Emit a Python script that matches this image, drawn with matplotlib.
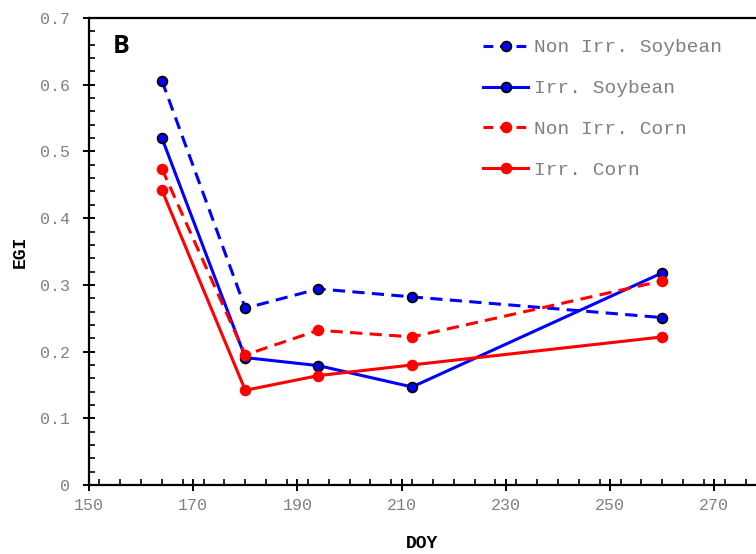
import matplotlib
matplotlib.use("Agg")
import matplotlib.pyplot as plt
from matplotlib.ticker import MultipleLocator

doy = [164, 180, 194, 212, 260]
non_irr_soybean = [0.606, 0.265, 0.294, 0.282, 0.251]
irr_soybean = [0.520, 0.191, 0.179, 0.147, 0.318]
non_irr_corn = [0.474, 0.195, 0.232, 0.222, 0.306]
irr_corn = [0.442, 0.142, 0.164, 0.180, 0.222]

series = [
    ("Non Irr. Soybean", non_irr_soybean, "blue", "--", "black"),
    ("Irr. Soybean", irr_soybean, "blue", "-", "black"),
    ("Non Irr. Corn", non_irr_corn, "red", "--", "red"),
    ("Irr. Corn", irr_corn, "red", "-", "red"),
]

mono = ["Liberation Mono", "DejaVu Sans Mono"]
grey = "#808080"

fig = plt.figure(figsize=(7.56, 5.54), dpi=100)
ax = fig.add_axes([0.1177, 0.1245, 0.8823, 0.843])

for label, vals, color, ls, edge in series:
    kw = dict(dashes=(4, 2.4)) if ls == "--" else {}
    ax.plot(doy, vals, linestyle=ls, color=color, lw=2.2, marker="o",
            markersize=7, markerfacecolor=color, markeredgecolor=edge,
            markeredgewidth=1.3, label=label, **kw)

ax.set_xlim(150, 278)
ax.set_ylim(0, 0.7)
ax.xaxis.set_minor_locator(MultipleLocator(4))
ax.yaxis.set_minor_locator(MultipleLocator(0.02))
ax.set_xticks([150, 170, 190, 210, 230, 250, 270])
ax.set_yticks([0, 0.1, 0.2, 0.3, 0.4, 0.5, 0.6, 0.7])
ax.set_yticklabels(["0", "0.1", "0.2", "0.3", "0.4", "0.5", "0.6", "0.7"])

ax.spines["right"].set_visible(False)
for s in ["left", "bottom", "top"]:
    ax.spines[s].set_linewidth(1.6)

ax.tick_params(which="major", direction="inout", length=9, width=1.4,
               labelsize=12, labelcolor=grey)
ax.tick_params(axis="y", which="major", pad=9)
ax.tick_params(axis="x", which="major", pad=5)
ax.tick_params(which="minor", direction="in", length=4, width=1.2)
for lab in ax.get_xticklabels() + ax.get_yticklabels():
    lab.set_fontfamily(mono)

ax.set_xlabel("DOY", fontfamily=mono, fontweight="bold", fontsize=13, labelpad=16)
ax.set_ylabel("EGI", fontfamily=mono, fontweight="bold", fontsize=13, labelpad=8)

ax.text(0.036, 0.94, "B", transform=ax.transAxes, fontsize=18,
        fontweight="bold", fontfamily="Open Sans", va="center", ha="left")

leg = ax.legend(loc="upper left", bbox_to_anchor=(0.565, 0.993), frameon=False,
                prop={"family": mono, "size": 14}, handlelength=2.3,
                handletextpad=0.3, labelspacing=1.2)
for t in leg.get_texts():
    t.set_color(grey)
for h in leg.get_lines():
    if h.get_linestyle() == "--":
        h.set_dashes((3.2, 2.2))

fig.savefig("out.png", dpi=100)
